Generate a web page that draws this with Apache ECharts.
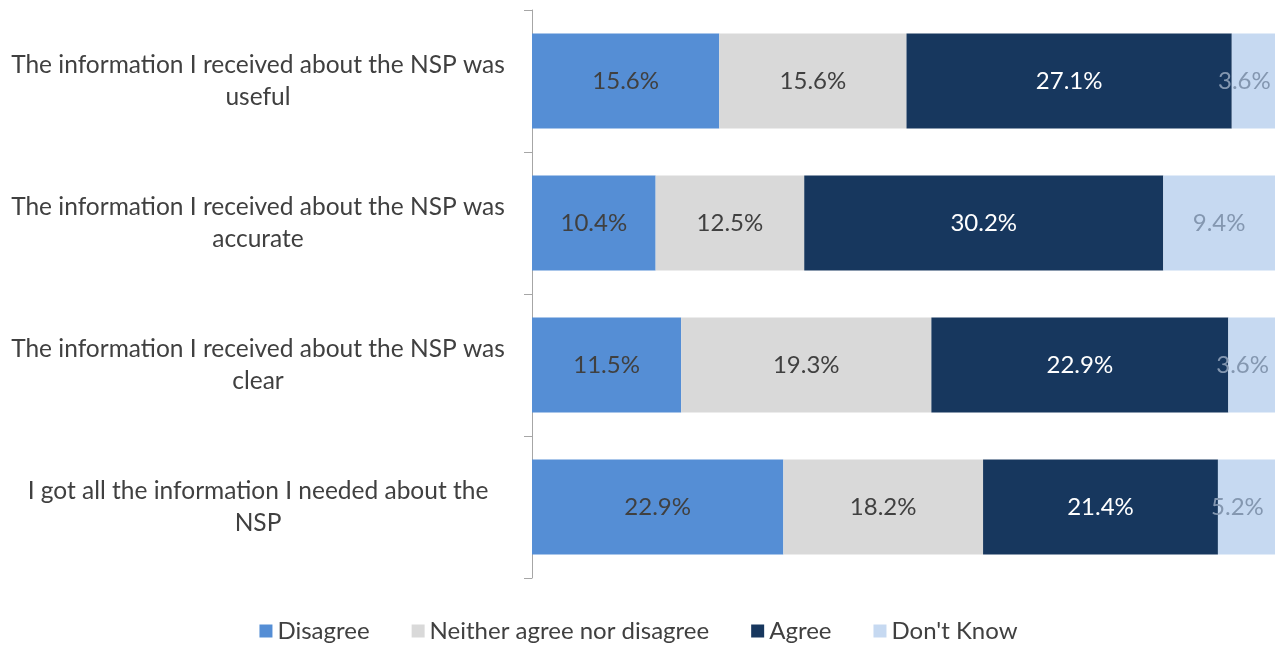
<!DOCTYPE html>
<html>
<head>
<meta charset="utf-8">
<script src="https://cdn.jsdelivr.net/npm/echarts@6/dist/echarts.min.js"></script>
<style>
html,body{margin:0;padding:0;background:#fff;}
#chart{width:1277px;height:646px;}
</style>
</head>
<body>
<div id="chart"></div>
<script>
const categories = [
  "The information I received about the NSP was\nuseful",
  "The information I received about the NSP was\naccurate",
  "The information I received about the NSP was\nclear",
  "I got all the information I needed about the\nNSP"
];
const seriesNames = ["Disagree", "Neither agree nor disagree", "Agree", "Don't Know"];
const disagree = [15.6, 10.4, 11.5, 22.9];
const neither = [15.6, 12.5, 19.3, 18.2];
const agree = [27.1, 30.2, 22.9, 21.4];
const dontKnow = [3.6, 9.4, 3.6, 5.2];

const colors = ["#558ED5", "#D9D9D9", "#17375E", "#C6D9F1"];
const labelColors = ["#404040", "#404040", "#FFFFFF", "#8497B0"];
const raw = [disagree, neither, agree, dontKnow];
const totals = categories.map((_, i) => raw.reduce((s, arr) => s + arr[i], 0));
const FONT = "Lato";

const series = raw.map((arr, si) => ({
  name: seriesNames[si],
  type: "bar",
  stack: "total",
  barWidth: 95,
  itemStyle: { color: colors[si] },
  label: {
    show: true,
    position: "inside",
    color: labelColors[si],
    fontFamily: FONT,
    fontSize: 24,
    formatter: p => arr[p.dataIndex].toFixed(1) + "%"
  },
  emphasis: { disabled: true },
  data: arr.map((v, i) => {
    const share = v / totals[i] * 100;
    const item = { value: share };
    if (si === 3 && share < 10) item.label = { offset: [-9, 0] };
    return item;
  })
}));

const chart = echarts.init(document.getElementById("chart"), null, { renderer: "canvas" });
chart.setOption({
  animation: false,
  textStyle: { fontFamily: FONT },
  grid: { left: 532, right: 2, top: 10, bottom: 68, containLabel: false },
  xAxis: {
    type: "value", min: 0, max: 100,
    show: false
  },
  yAxis: {
    type: "category",
    inverse: true,
    data: categories,
    axisLine: { show: true, lineStyle: { color: "#A6A6A6", width: 1 } },
    axisTick: { show: true, length: 8, lineStyle: { color: "#A6A6A6" } },
    axisLabel: {
      color: "#404040",
      fontFamily: FONT,
      fontSize: 24.5,
      lineHeight: 32,
      align: "center",
      margin: 274
    },
    splitLine: { show: false }
  },
  legend: {
    bottom: 3,
    padding: 0,
    left: "center",
    itemWidth: 13,
    itemHeight: 13,
    itemGap: 42,
    icon: "rect",
    textStyle: { color: "#404040", fontFamily: FONT, fontSize: 24 },
    data: seriesNames
  },
  series: series
});
</script>
</body>
</html>
